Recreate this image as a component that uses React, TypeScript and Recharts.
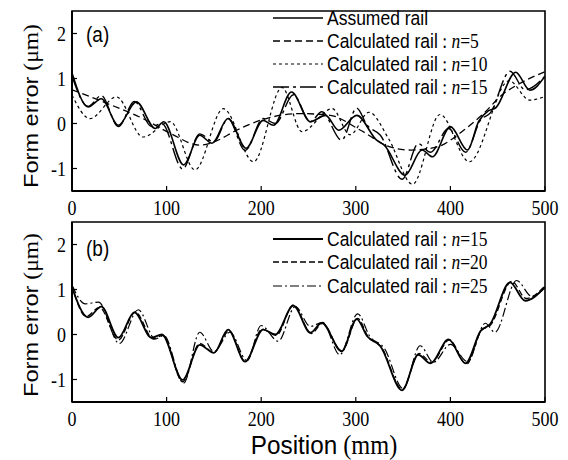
import React from "react";
import { LineChart, Line, XAxis, YAxis, ReferenceArea } from "recharts";

// ---------- data ----------
const xTicks = [0, 100, 200, 300, 400, 500];
const yTicks = [-1, 0, 1, 2];

// Panel (a)
const assumedX = [0, 17, 31, 49, 68, 88, 97, 118, 135, 148, 165, 184, 202, 213, 232, 252, 268, 282, 301, 322, 330, 352, 370, 381, 400, 418, 430, 440, 448, 469, 484, 500];
const assumedY = [1.12, 0.37, 0.55, -0.04, 0.48, -0.11, 0.04, -0.92, -0.26, -0.44, 0.11, -0.55, 0.07, -0.04, 0.7, 0.04, 0.18, -0.15, 0.18, -0.37, -0.48, -1.15, -0.59, -0.74, -0.07, -0.59, 0.05, 0.28, 0.35, 1.14, 0.74, 1.05];

const n5X = [0, 33, 75, 104, 135, 150, 174, 199, 241, 273, 305, 336, 358, 386, 414, 435, 456, 470, 500];
const n5Y = [0.75, 0.48, 0.11, -0.22, -0.48, -0.41, -0.15, 0.07, 0.22, 0.18, -0.15, -0.52, -0.59, -0.52, -0.15, 0.22, 0.66, 0.85, 1.15];

const n10X = [0, 19, 47, 75, 104, 130, 160, 192, 222, 243, 275, 294, 314, 335, 360, 389, 420, 462, 484, 500];
const n10Y = [0.63, 0.11, 0.59, -0.3, 0.04, -1.03, 0.33, -0.85, 0.8, -0.18, 0.33, -0.25, 0.25, -0.35, -1.35, 0.2, -0.85, 0.95, 0.52, 0.6];

// n = 15 (shared by both panels)
const n15X = [0, 17, 31, 49, 66, 84, 95, 117, 135, 150, 165, 183, 202, 215, 234, 252, 264, 285, 301, 312, 326, 349, 366, 379, 398, 416, 432, 442, 463, 479, 500];
const n15Y = [1.05, 0.38, 0.62, -0.07, 0.49, -0.07, 0.0, -1.01, -0.23, -0.41, 0.11, -0.6, 0.11, 0.0, 0.64, 0.04, 0.26, -0.37, 0.34, -0.04, -0.26, -1.24, -0.45, -0.64, -0.11, -0.64, 0.08, 0.23, 1.16, 0.75, 1.05];

// Panel (b)
const n20X = [0, 15, 29, 49, 67, 86, 96, 117, 135, 150, 166, 183, 201, 216, 234, 253, 265, 285, 302, 313, 327, 349, 367, 380, 399, 417, 433, 442, 465, 480, 500];
const n20Y = [1.08, 0.4, 0.6, -0.12, 0.5, -0.1, -0.02, -1.05, -0.2, -0.4, 0.08, -0.6, 0.12, -0.02, 0.66, 0.02, 0.25, -0.38, 0.36, -0.05, -0.28, -1.22, -0.42, -0.62, -0.12, -0.66, 0.1, 0.2, 1.18, 0.8, 1.08];

const n25X = [0, 14, 28, 50, 70, 88, 97, 118, 135, 150, 167, 185, 200, 218, 236, 252, 265, 283, 302, 315, 330, 350, 368, 382, 400, 418, 437, 447, 470, 486, 500];
const n25Y = [1.1, 0.68, 0.72, -0.2, 0.55, -0.1, -0.02, -1.08, 0.05, -0.38, 0.05, -0.58, 0.2, -0.15, 0.62, 0.18, 0.27, -0.45, 0.46, -0.05, -0.3, -1.2, -0.25, -0.62, -0.22, -0.6, 0.25, 0.05, 1.2, 0.85, 1.05];

const toPts = (xs: number[], ys: number[]) => xs.map((x, i) => ({ x, y: ys[i] }));

type SeriesDef = { name: string; n?: string; data: { x: number; y: number }[]; dash?: string; width: number };

const seriesA: SeriesDef[] = [
  { name: "Assumed rail", data: toPts(assumedX, assumedY), width: 1.6 },
  { name: "Calculated rail", n: "5", data: toPts(n5X, n5Y), dash: "7 4", width: 1.3 },
  { name: "Calculated rail", n: "10", data: toPts(n10X, n10Y), dash: "3 3", width: 1.2 },
  { name: "Calculated rail", n: "15", data: toPts(n15X, n15Y), dash: "16 4 3 4", width: 1.4 },
];

const seriesB: SeriesDef[] = [
  { name: "Calculated rail", n: "15", data: toPts(n15X, n15Y), width: 1.8 },
  { name: "Calculated rail", n: "20", data: toPts(n20X, n20Y), dash: "6 3", width: 1.3 },
  { name: "Calculated rail", n: "25", data: toPts(n25X, n25Y), dash: "9 3 2 3", width: 1.2 },
];

const SANS = "'Liberation Sans', Arial, sans-serif";
const SERIF = "'Liberation Serif', 'Times New Roman', serif";
const STRETCH = 1.18;

const XTick = (props: any) => {
  const { x, y, payload } = props;
  return (
    <g transform={`translate(${x},${y}) scale(1,${STRETCH})`}>
      <text x={0} y={0} dy="0.72em" textAnchor="middle" fontSize={18} fontFamily={SERIF} fill="#000">
        {payload.value}
      </text>
    </g>
  );
};

const YTick = (props: any) => {
  const { x, y, payload } = props;
  return (
    <g transform={`translate(${x},${y}) scale(1,${STRETCH})`}>
      <text x={0} y={0} dy="0.34em" textAnchor="end" fontSize={18} fontFamily={SERIF} fill="#000">
        {payload.value}
      </text>
    </g>
  );
};

function Panel({ series, top }: { series: SeriesDef[]; top: number }) {
  return (
    <div style={{ position: "absolute", left: 0, top }}>
      <LineChart width={568} height={230} margin={{ top: 11, right: 23, bottom: 0, left: 0 }}>
        <XAxis
          type="number"
          dataKey="x"
          domain={[0, 500]}
          ticks={xTicks}
          allowDataOverflow
          height={39}
          tickSize={-5}
          tickMargin={14}
          axisLine={{ stroke: "#000", strokeWidth: 2 }}
          tickLine={{ stroke: "#000", strokeWidth: 1.2 }}
          tick={<XTick />}
        />
        <YAxis
          type="number"
          domain={[-1.5, 2.5]}
          ticks={yTicks}
          allowDataOverflow
          width={72}
          tickSize={-5}
          tickMargin={11}
          axisLine={{ stroke: "#000", strokeWidth: 2 }}
          tickLine={{ stroke: "#000", strokeWidth: 1.2 }}
          tick={<YTick />}
        />
        <ReferenceArea x1={0} x2={500} y1={-1.5} y2={2.5} fill="none" stroke="#000" strokeWidth={1.6} />
        {series.map((s, i) => (
          <Line
            key={i}
            data={s.data}
            dataKey="y"
            type="monotone"
            stroke="#000"
            strokeWidth={s.width}
            strokeDasharray={s.dash}
            dot={false}
            activeDot={false}
            isAnimationActive={false}
          />
        ))}
      </LineChart>
    </div>
  );
}

function LegendRows({ series, ys }: { series: SeriesDef[]; ys: number[] }) {
  return (
    <>
      {series.map((s, i) => (
        <g key={i}>
          <line x1={273} x2={323} y1={ys[i]} y2={ys[i]} stroke="#000" strokeWidth={s.width} strokeDasharray={s.dash} />
          <g transform={`translate(327, ${ys[i]}) scale(1,${STRETCH})`}>
            <text x={0} y={0} dy="0.36em" fontSize={17.5} fill="#000">
              <tspan fontFamily={SANS}>{s.name}</tspan>
              {s.n && (
                <>
                  <tspan fontFamily={SERIF}> : </tspan>
                  <tspan fontFamily={SERIF} fontStyle="italic">n</tspan>
                  <tspan fontFamily={SERIF}>={s.n}</tspan>
                </>
              )}
            </text>
          </g>
        </g>
      ))}
    </>
  );
}

function YTitle({ cy }: { cy: number }) {
  return (
    <text transform={`translate(38, ${cy}) rotate(-90) scale(${STRETCH},1)`} textAnchor="middle" fontSize={20} fill="#000">
      <tspan fontFamily={SANS}>Form error</tspan>
      <tspan fontFamily={SERIF}>{"  (\u03bcm)"}</tspan>
    </text>
  );
}

export default function App() {
  return (
    <div style={{ position: "absolute", left: 0, top: 0, width: 568, height: 460, background: "#fff" }}>
      <Panel series={seriesA} top={0} />
      <Panel series={seriesB} top={211} />
      <svg width={568} height={460} style={{ position: "absolute", left: 0, top: 0, pointerEvents: "none" }}>
        <LegendRows series={seriesA} ys={[18, 41, 64, 87]} />
        <LegendRows series={seriesB} ys={[239, 262, 286]} />
        <g transform={`translate(86, 34) scale(1,${STRETCH})`}>
          <text x={0} y={0} dy="0.36em" fontSize={19} fontFamily={SANS} fill="#000">(a)</text>
        </g>
        <g transform={`translate(86, 248) scale(1,${STRETCH})`}>
          <text x={0} y={0} dy="0.36em" fontSize={19} fontFamily={SANS} fill="#000">(b)</text>
        </g>
        <YTitle cy={106} />
        <YTitle cy={315} />
        <g transform={`translate(324, 444) scale(1.08,${STRETCH})`}>
          <text x={0} y={0} dy="0.36em" textAnchor="middle" fontSize={22.5} fill="#000">
            <tspan fontFamily={SANS}>Position</tspan>
            <tspan fontFamily={SERIF}>{" (mm)"}</tspan>
          </text>
        </g>
      </svg>
    </div>
  );
}
